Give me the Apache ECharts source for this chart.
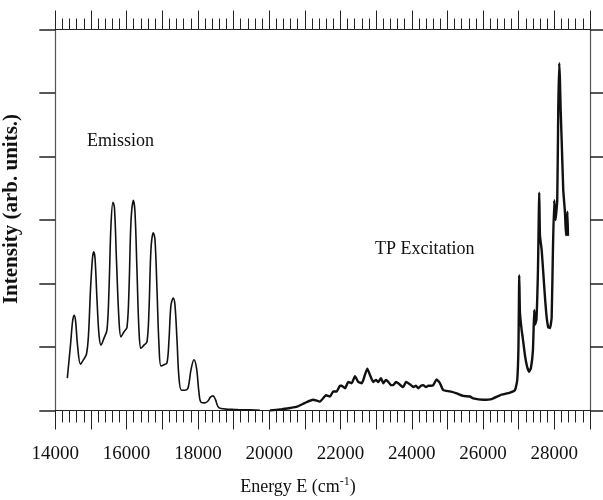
<!DOCTYPE html>
<html>
<head>
<meta charset="utf-8">
<script src="https://cdn.jsdelivr.net/npm/echarts@6/dist/echarts.min.js"></script>
<style>html,body{margin:0;padding:0;background:#fff}#c{width:603px;height:500px}</style>
</head>
<body>
<div id="c"></div>
<script>
// Emission spectrum (energy in cm^-1, intensity in arb. units)
const emissionE = [14337,14426,14482,14525,14567,14623,14707,14791,14875,14931,14987,15043,15077,15114,15170,15226,15282,15366,15450,15506,15562,15618,15660,15716,15787,15843,15927,16011,16067,16123,16188,16235,16291,16347,16404,16488,16572,16628,16684,16749,16797,16853,16909,16965,17049,17133,17189,17245,17310,17357,17414,17470,17540,17638,17722,17806,17890,17961,18031,18087,18199,18283,18353,18423,18493,18564,18648,18844,19041,19181,19461,19741];
const emissionI = [0.51,1.03,1.39,1.50,1.42,1.03,0.73,0.80,0.89,1.19,1.90,2.40,2.50,2.40,1.74,1.19,1.03,1.14,1.27,1.90,2.92,3.28,3.19,2.37,1.42,1.16,1.24,1.31,1.90,2.97,3.31,3.13,2.21,1.27,0.98,1.03,1.08,1.58,2.54,2.80,2.69,1.90,1.03,0.70,0.72,0.75,1.11,1.66,1.77,1.66,1.11,0.51,0.32,0.32,0.35,0.64,0.80,0.67,0.28,0.13,0.12,0.15,0.21,0.23,0.17,0.06,0.03,0.02,0.016,0.01,0.01,0.003];
// Two-photon excitation spectrum
const excitationE = [20022,20359,20584,20780,21004,21229,21425,21594,21706,21798,21893,21986,22033,22126,22219,22314,22407,22499,22595,22640,22752,22827,22920,22996,23060,23136,23200,23276,23341,23416,23481,23557,23621,23697,23761,23837,23902,23977,24042,24117,24182,24258,24322,24398,24462,24538,24603,24698,24749,24791,24883,25071,25259,25444,25632,25724,26005,26241,26474,26754,26895,26959,26993,27015,27035,27082,27110,27175,27231,27287,27343,27399,27436,27455,27497,27540,27576,27596,27644,27689,27736,27784,27829,27877,27924,27960,27997,28031,28081,28110,28138,28157,28177,28205,28250,28298,28326,28368,28382];
const excitationI = [0,0.02,0.04,0.06,0.12,0.17,0.14,0.24,0.22,0.30,0.30,0.39,0.39,0.35,0.45,0.43,0.54,0.45,0.43,0.48,0.66,0.56,0.45,0.48,0.45,0.51,0.43,0.48,0.45,0.40,0.40,0.45,0.43,0.39,0.37,0.45,0.43,0.40,0.37,0.39,0.35,0.39,0.40,0.37,0.39,0.39,0.40,0.49,0.46,0.43,0.32,0.30,0.27,0.23,0.22,0.19,0.17,0.18,0.24,0.28,0.32,0.48,1.00,2.13,1.54,1.27,1.16,0.87,0.70,0.61,0.67,0.95,1.58,1.35,1.43,2.21,3.43,2.76,2.53,2.17,1.79,1.47,1.31,1.30,1.46,2.53,3.31,3.00,3.31,4.78,5.47,5.20,4.73,4.26,3.47,3.12,2.76,3.13,2.75];
const xMin = 14000, xMax = 29000, xStep = 1000;
const yMin = 0, yMax = 6, yStep = 1;

const zip = (a, b) => a.map((v, i) => [v, b[i]]);
const FONT = '"Liberation Serif","Times New Roman",serif';
const AX = '#222';

const chart = echarts.init(document.getElementById('c'), null, {renderer: 'canvas'});
const xCommon = {
  type: 'value', min: xMin, max: xMax, interval: xStep,
  axisLine: {show: true, onZero: false, lineStyle: {color: AX, width: 1.2}},
  splitLine: {show: false},
  minorTick: {show: true, splitNumber: 5, lineStyle: {color: AX, width: 1}},
};
chart.setOption({
  animation: false,
  grid: {left: 55.3, right: 13, top: 29.5, bottom: 89.5},
  xAxis: [
    Object.assign({}, xCommon, {
      position: 'bottom',
      axisTick: {show: true, inside: false, length: 19, lineStyle: {color: AX, width: 1}},
      minorTick: {show: true, splitNumber: 5, length: 12, lineStyle: {color: AX, width: 1}},
      axisLabel: {show: true, margin: 34, fontFamily: FONT, fontSize: 19, color: '#111',
        formatter: v => (v % 2000 === 0 && v <= 28000) ? String(v) : ''},
    }),
    Object.assign({}, xCommon, {
      position: 'top',
      axisTick: {show: true, inside: false, length: 19, lineStyle: {color: AX, width: 1}},
      minorTick: {show: true, splitNumber: 5, length: 11, lineStyle: {color: AX, width: 1}},
      axisLabel: {show: false},
    })
  ],
  yAxis: [
    {type: 'value', min: yMin, max: yMax, interval: yStep, position: 'left',
      axisLine: {show: true, lineStyle: {color: '#555', width: 1.2}},
      axisTick: {show: true, inside: false, length: 16, lineStyle: {color: AX, width: 1.5}},
      axisLabel: {show: false}, splitLine: {show: false}},
    {type: 'value', min: yMin, max: yMax, interval: yStep, position: 'right',
      axisLine: {show: true, lineStyle: {color: '#555', width: 1.2}},
      axisTick: {show: true, inside: false, length: 16, lineStyle: {color: AX, width: 1.5}},
      axisLabel: {show: false}, splitLine: {show: false}}
  ],
  series: [
    {name: 'Emission', type: 'line', xAxisIndex: 0, yAxisIndex: 0, showSymbol: false, smooth: 0.35,
      data: zip(emissionE, emissionI), lineStyle: {color: '#111', width: 1.6}},
    {name: 'TP Excitation', type: 'line', xAxisIndex: 0, yAxisIndex: 0, showSymbol: false, smooth: 0.15,
      data: zip(excitationE, excitationI), lineStyle: {color: '#111', width: 2.4}}
  ],
  graphic: [
    {type: 'text', left: 87, top: 132, style: {text: 'Emission', font: '18px ' + FONT, fill: '#111'}},
    {type: 'text', left: 375, top: 240, style: {text: 'TP Excitation', font: '18px ' + FONT, fill: '#111'}},
    {type: 'text', x: 12, y: 209, rotation: Math.PI / 2,
      style: {text: 'Intensity (arb. units.)', font: 'bold 21px ' + FONT, fill: '#111', align: 'center', verticalAlign: 'middle'}},
    {type: 'text', x: 298, y: 487,
      style: {text: 'Energy E (cm{sup|-1})', font: '18px ' + FONT, fill: '#111', align: 'center', verticalAlign: 'middle',
        rich: {sup: {fontSize: 12, fontFamily: FONT, verticalAlign: 'top', padding: [0, 0, 10, 0], fill: '#111'}}}}
  ]
});
</script>
</body>
</html>
